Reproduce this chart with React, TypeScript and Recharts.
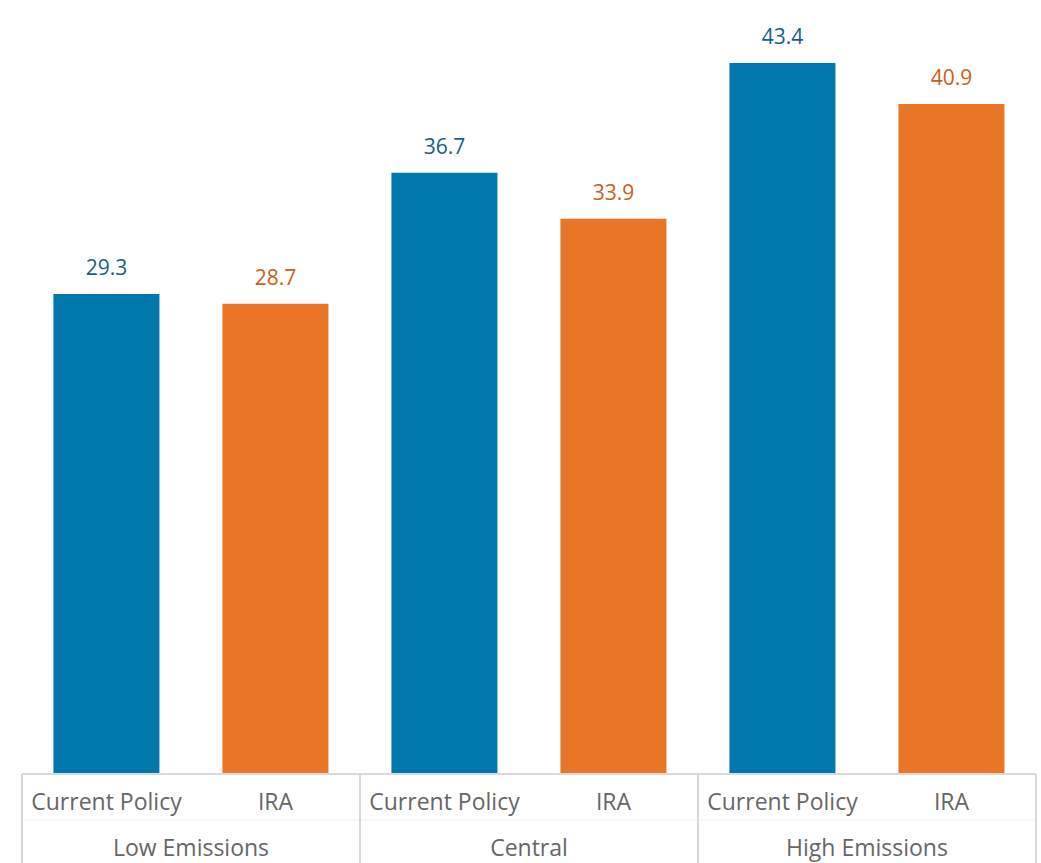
import React from 'react';
import { BarChart, Bar, XAxis, YAxis, Cell, LabelList } from 'recharts';

const groups = ['Low Emissions', 'Low Emissions', 'Central', 'Central', 'High Emissions', 'High Emissions'];
const scenarios = ['Current Policy', 'IRA', 'Current Policy', 'IRA', 'Current Policy', 'IRA'];
const values = [29.3, 28.7, 36.7, 33.9, 43.4, 40.9];

const BAR_COLORS: Record<string, string> = { 'Current Policy': '#0077ad', IRA: '#e87626' };
const LABEL_COLORS: Record<string, string> = { 'Current Policy': '#1b5e86', IRA: '#c8601b' };
const FONT = '"Open Sans", "Noto Sans", sans-serif';
const GRID = '#d9d9d9';

const data = values.map((v, i) => ({ group: groups[i], name: scenarios[i], value: v }));

/**
 * Group label under the scenario row, with the separators between groups
 */
function GroupTick(props: any) {
  const { x, y, payload, index, visibleTicksCount } = props;
  const half = payload.offset || 0;
  const top = y - 66;
  const bottom = y + 60;
  return (
    <g>
      <line x1={x - half} x2={x - half} y1={top} y2={bottom} stroke={GRID} strokeWidth={2} />
      {index === visibleTicksCount - 1 && (
        <line x1={x + half} x2={x + half} y1={top} y2={bottom} stroke={GRID} strokeWidth={2} />
      )}
      <text x={x} y={y} dy="0.71em" textAnchor="middle" fill="#666" fontSize={23} fontFamily={FONT}>
        {payload.value}
      </text>
    </g>
  );
}

function ValueLabel(props: any) {
  const { x, y, width, value, index } = props;
  return (
    <text
      x={x + width / 2}
      y={y - 19}
      textAnchor="middle"
      fill={LABEL_COLORS[scenarios[index]]}
      fontSize={21}
      fontFamily={FONT}
    >
      {value}
    </text>
  );
}

export default function App() {
  return (
    <div style={{ position: 'absolute', left: 0, top: 0, background: '#fff' }}>
      <BarChart
        width={1041}
        height={863}
        data={data}
        margin={{ top: 63, right: 5, bottom: 0, left: 22 }}
        barCategoryGap="18.6%"
      >
        <XAxis
          dataKey="name"
          height={46}
          axisLine={{ stroke: GRID, strokeWidth: 2 }}
          tickLine={false}
          tickSize={0}
          tickMargin={20}
          interval={0}
          tick={{ fill: '#666', fontSize: 23, fontFamily: FONT }}
        />
        <XAxis
          xAxisId="group"
          dataKey="group"
          allowDuplicatedCategory={false}
          height={43}
          axisLine={{ stroke: '#f0f0f0', strokeWidth: 1 }}
          tickLine={false}
          tickSize={0}
          tickMargin={20}
          interval={0}
          tick={<GroupTick />}
        />
        <YAxis hide domain={[0, 43.4]} />
        <Bar dataKey="value" isAnimationActive={false}>
          {data.map((d, i) => (
            <Cell key={i} fill={BAR_COLORS[d.name]} />
          ))}
          <LabelList dataKey="value" content={<ValueLabel />} />
        </Bar>
      </BarChart>
    </div>
  );
}
